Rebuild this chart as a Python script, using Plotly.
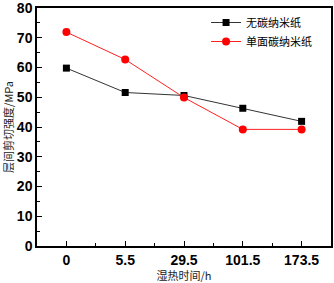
import plotly.graph_objects as go

categories = ["0", "5.5", "29.5", "101.5", "173.5"]
no_cnp = [59.8, 51.6, 50.6, 46.3, 41.9]
single_cnp = [71.9, 62.7, 49.9, 39.2, 39.2]
series_names = ["无碳纳米纸", "单面碳纳米纸"]
y_ticks = [0, 10, 20, 30, 40, 50, 60, 70, 80]

idx = list(range(len(categories)))
cjk = "Noto Sans CJK SC"
num_font = dict(family="Liberation Sans", size=14, color="black", weight="bold")

fig = go.Figure()
fig.add_trace(go.Scatter(x=idx, y=no_cnp, name=series_names[0], mode="lines+markers",
                         line=dict(color="#333333", width=1),
                         marker=dict(symbol="square", size=7, color="black")))
fig.add_trace(go.Scatter(x=idx, y=single_cnp, name=series_names[1], mode="lines+markers",
                         line=dict(color="#ff2020", width=1),
                         marker=dict(symbol="circle", size=8, color="red")))

fig.update_layout(
    width=334, height=283,
    margin=dict(l=37, r=3, t=8, b=37, autoexpand=False),
    paper_bgcolor="white", plot_bgcolor="white",
    showlegend=True,
    legend=dict(x=0.575, y=1.0, xanchor="left", yanchor="top", bgcolor="rgba(0,0,0,0)",
                font=dict(family=cjk, size=11, color="black"), tracegroupgap=0,
                itemwidth=30),
    xaxis=dict(range=[-0.5, 4.5], tickmode="array", tickvals=idx, ticktext=categories,
               automargin=False,
               showline=True, linecolor="black", linewidth=1.5, mirror=True,
               ticks="inside", ticklen=5, tickcolor="black", showgrid=False, zeroline=False,
               tickfont=num_font,
               minor=dict(tickmode="array", tickvals=[0.5, 1.5, 2.5, 3.5], ticks="inside",
                          ticklen=3, tickcolor="black"),
               title=dict(text="湿热时间/h", font=dict(family=cjk, size=11, color="#222222"), standoff=10)),
    yaxis=dict(range=[0, 80.01], tickmode="array", tickvals=y_ticks,
               automargin=False, ticklabeloverflow="allow",
               showline=True, linecolor="black", linewidth=1.5, mirror=True,
               ticks="inside", ticklen=5, tickcolor="black", showgrid=False, zeroline=False,
               tickfont=num_font,
               minor=dict(dtick=5, ticks="inside", ticklen=3, tickcolor="black"),
               title=dict(text="层间剪切强度/MPa", font=dict(family=cjk, size=11, color="#222222"), standoff=4)),
)

fig.write_html("out.html", config={"displayModeBar": False},
               post_script="document.body.style.margin='0';")
